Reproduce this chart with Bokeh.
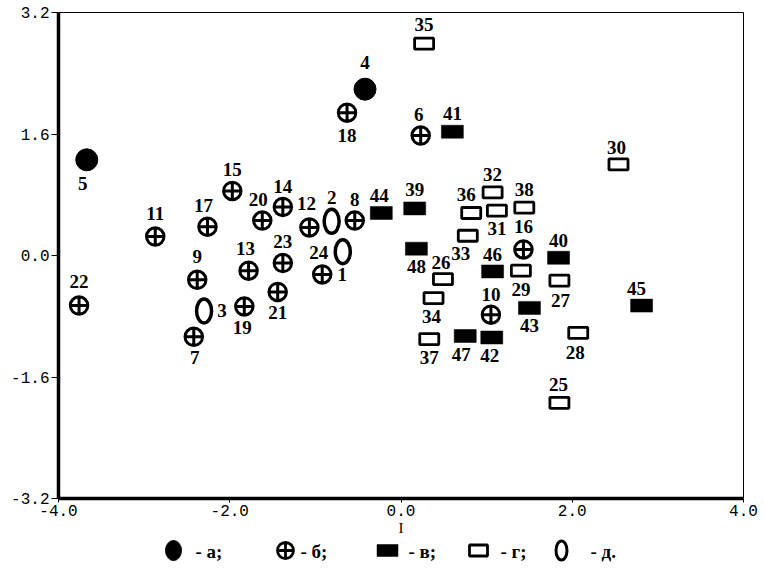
from bokeh.plotting import figure
from bokeh.models import FixedTicker, NumeralTickFormatter, ColumnDataSource, Range1d
from bokeh.layouts import column
from bokeh.embed import file_html
from bokeh.resources import INLINE
from bokeh.core.properties import value

# ---------------- data ----------------
# group "а" (filled circle)
a_ids = [4, 5]
a_x = [-0.42, -3.67]
a_y = [2.19, 1.26]

# group "б" (crossed circle)
b_ids = [1, 6, 7, 8, 9, 10, 11, 12, 13, 14, 15, 16, 17, 18, 19, 20, 21, 22, 23]
b_x = [-0.92, 0.23, -2.42, -0.54, -2.38, 1.05, -2.87, -1.07, -1.78, -1.38,
       -1.97, 1.43, -2.26, -0.63, -1.83, -1.62, -1.44, -3.76, -1.38]
b_y = [-0.25, 1.58, -1.07, 0.46, -0.32, -0.78, 0.25, 0.37, -0.20, 0.64,
       0.85, 0.08, 0.38, 1.88, -0.67, 0.46, -0.48, -0.66, -0.10]

# group "в" (filled rectangle)
v_ids = [39, 40, 41, 42, 43, 44, 45, 46, 47, 48]
v_x = [0.16, 1.84, 0.60, 1.06, 1.50, -0.23, 2.81, 1.07, 0.75, 0.18]
v_y = [0.62, -0.03, 1.63, -1.08, -0.69, 0.56, -0.66, -0.21, -1.06, 0.09]

# group "г" (open rectangle)
g_ids = [25, 26, 27, 28, 29, 30, 31, 32, 33, 34, 35, 36, 37, 38]
g_x = [1.85, 0.49, 1.85, 2.07, 1.40, 2.54, 1.12, 1.07, 0.78, 0.38, 0.27, 0.82, 0.33, 1.44]
g_y = [-1.94, -0.31, -0.33, -1.02, -0.20, 1.20, 0.59, 0.83, 0.26, -0.56, 2.79, 0.56, -1.10, 0.63]

# group "д" (open ellipse)
d_ids = [2, 3, 24]
d_x = [-0.81, -2.30, -0.68]
d_y = [0.45, -0.73, 0.05]

x_ticks = [-4.0, -2.0, 0.0, 2.0, 4.0]
y_ticks = [-3.2, -1.6, 0.0, 1.6, 3.2]
x_title = "I"
legend_labels = ["- а;", "- б;", "- в;", "- г;", "- д."]

# label placement (screen pixels, dx right, dy down) -- styling only
label_shift = {
    5: (-4, 24), 4: (0, -27), 18: (0, 23), 6: (-2, -21), 15: (0, -21),
    11: (0, -23), 17: (-4, -21), 9: (0, -23), 13: (-3, -22), 22: (0, -24),
    19: (-2, 21), 7: (1, 21), 20: (-4, -21), 14: (0, -20), 12: (-3, -24),
    8: (0, -21), 23: (0, -22), 21: (0, 21), 1: (20, 0), 16: (0, -23),
    10: (0, -20), 2: (0, -24), 24: (-24, 1), 3: (18, 0), 41: (0, -18),
    44: (-2, -17), 39: (0, -19), 48: (0, 18), 46: (0, -17), 47: (-4, 19),
    42: (-2, 18), 40: (0, -17), 43: (0, 18), 45: (-5, -17), 35: (0, -19),
    30: (-2, -17), 32: (0, -18), 38: (0, -18), 36: (-5, -18), 31: (0, 18),
    33: (-7, 18), 26: (-2, -17), 34: (-2, 18), 37: (0, 18), 29: (0, 19),
    27: (1, 20), 28: (-3, 20), 25: (-1, -18),
}

# ---------------- main figure ----------------
BL, BR, FW = 58, 21, 685
p = figure(frame_width=FW, frame_height=486, output_backend="svg", toolbar_location=None,
           x_range=Range1d(-4.0, 4.0), y_range=Range1d(-3.2, 3.2),
           min_border_left=BL, min_border_right=BR, min_border_top=12, min_border_bottom=10,
           background_fill_color="white", border_fill_color="white")
p.grid.visible = False
p.outline_line_color = "black"
p.outline_line_width = 1

tick_font = "Liberation Mono"
for ax in (p.xaxis[0], p.yaxis[0]):
    ax.axis_line_width = 3.5
    ax.axis_line_color = "black"
    ax.major_tick_line_color = "black"
    ax.major_tick_line_width = 1
    ax.minor_tick_line_color = None
    ax.major_tick_in = 0
    ax.major_label_text_font = tick_font
    ax.major_label_text_font_size = "16px"
    ax.major_label_text_color = "black"
    ax.formatter = NumeralTickFormatter(format="0.0")

p.xaxis[0].ticker = FixedTicker(ticks=x_ticks)
p.yaxis[0].ticker = FixedTicker(ticks=y_ticks)
p.xaxis[0].major_tick_out = 4
p.yaxis[0].major_tick_out = 7
p.xaxis[0].major_label_standoff = 2
p.yaxis[0].major_label_standoff = 2
p.xaxis[0].axis_label = x_title
p.xaxis[0].axis_label_text_font = "Liberation Serif"
p.xaxis[0].axis_label_text_font_style = "normal"
p.xaxis[0].axis_label_text_font_size = "15px"
p.xaxis[0].axis_label_text_color = "black"
p.xaxis[0].axis_label_standoff = 1

# markers
p.scatter(a_x, a_y, marker="circle", size=22, fill_color="black", line_color="black", line_width=1)
p.scatter(b_x, b_y, marker="circle_cross", size=17.5, fill_color="white",
          line_color="black", line_width=3)
p.rect(v_x, v_y, width=22, height=13, width_units="screen", height_units="screen",
       fill_color="black", line_color="black", line_width=0.5)
p.rect(g_x, g_y, width=19, height=11, width_units="screen", height_units="screen",
       fill_color="white", line_color="black", line_width=2.8)
p.ellipse(d_x, d_y, width=15, height=24, width_units="screen", height_units="screen",
          fill_color="white", line_color="black", line_width=3.5)

# labels
ids = a_ids + b_ids + v_ids + g_ids + d_ids
xs = a_x + b_x + v_x + g_x + d_x
ys = a_y + b_y + v_y + g_y + d_y
lab_src = ColumnDataSource(dict(
    x=xs, y=ys, text=[str(i) for i in ids],
    dx=[label_shift[i][0] for i in ids], dy=[label_shift[i][1] for i in ids]))
p.text(x="x", y="y", text="text", source=lab_src, x_offset="dx", y_offset="dy",
       text_font=value("Liberation Serif"), text_font_style="bold", text_font_size="19px",
       text_align="center", text_baseline="middle", text_color="black")

# ---------------- legend strip (x in page pixels) ----------------
lg = figure(frame_width=FW, height=24, output_backend="svg", toolbar_location=None,
            x_range=Range1d(BL, BL + FW), y_range=Range1d(24, 0),
            min_border_left=BL, min_border_right=BR, min_border_top=0, min_border_bottom=0,
            background_fill_color="white", border_fill_color="white")
lg.axis.visible = False
lg.grid.visible = False
lg.outline_line_color = None

ly = 12
lg.ellipse([173], [ly], width=16, height=20, width_units="screen", height_units="screen",
           fill_color="black", line_color="black")
lg.scatter([285], [ly], marker="circle_cross", size=16, fill_color="white",
           line_color="black", line_width=2.8)
lg.rect([387], [ly], width=21, height=12, width_units="screen", height_units="screen",
        fill_color="black", line_color="black", line_width=0.5)
lg.rect([478], [ly], width=18, height=11, width_units="screen", height_units="screen",
        fill_color="white", line_color="black", line_width=2.8)
lg.ellipse([561], [ly], width=11, height=19, width_units="screen", height_units="screen",
           fill_color="white", line_color="black", line_width=3)
lg.text(x=[195, 300, 408, 500, 590], y=[ly + 1] * 5, text=legend_labels,
        text_font=value("Liberation Serif"), text_font_style="bold", text_font_size="19px",
        text_align="left", text_baseline="middle", text_color="black")

layout = column(p, lg, spacing=0)
open("out.html", "w").write(file_html(layout, INLINE))
